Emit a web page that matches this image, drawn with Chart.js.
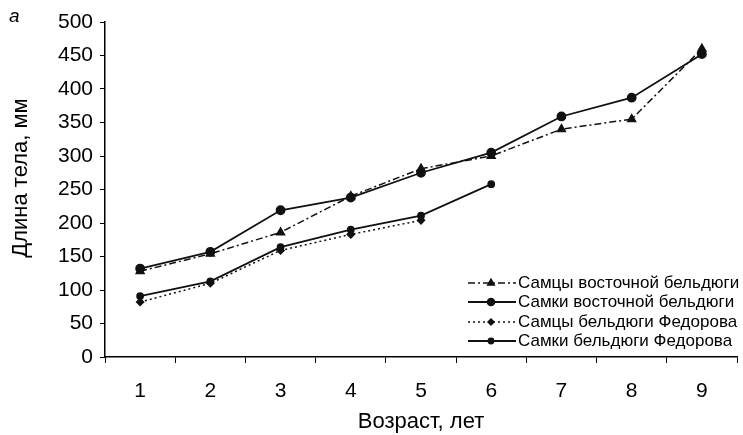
<!DOCTYPE html>
<html><head><meta charset="utf-8">
<script src="https://cdn.jsdelivr.net/npm/chart.js@4.4.1/dist/chart.umd.min.js"></script>
<style>html,body{margin:0;padding:0;background:#fff}#wrap{position:relative;width:743px;height:435px}</style>
</head><body>
<div id="wrap"><canvas id="c" width="743" height="435"></canvas></div>
<script>
const categories = ['1','2','3','4','5','6','7','8','9'];
const maleEastern   = [128, 154, 186, 240, 281, 300, 340, 355, 460];
const femaleEastern = [132, 157, 219, 238, 275, 305, 359, 387, 452];
const maleFedorov   = [82, 110, 159, 183, 204, null, null, null, null];
const femaleFedorov = [91, 113, 164, 190, 211, 258, null, null, null];
const seriesNames = ['Самцы восточной бельдюги','Самки восточной бельдюги','Самцы бельдюги Федорова','Самки бельдюги Федорова'];
const yTicks = [0,50,100,150,200,250,300,350,400,450,500];
const xTitle = 'Возраст, лет';
const yTitle = 'Длина тела, мм';
const panelLetter = 'а';

const FONT = "'Liberation Sans', Arial, sans-serif";
Chart.defaults.font.family = FONT;
Chart.defaults.color = '#000';

const ink = '#111';
const datasets = [
  {label: seriesNames[0], data: maleEastern, borderColor: ink, backgroundColor: ink, borderWidth: 1.5,
   borderDash: [7,3,2,3], pointStyle: 'triangle', pointRadius: 4.5},
  {label: seriesNames[1], data: femaleEastern, borderColor: ink, backgroundColor: ink, borderWidth: 1.8,
   pointStyle: 'circle', pointRadius: 4},
  {label: seriesNames[2], data: maleFedorov, borderColor: ink, backgroundColor: ink, borderWidth: 1.5,
   borderDash: [2,3], pointStyle: 'rectRot', pointRadius: 3.5},
  {label: seriesNames[3], data: femaleFedorov, borderColor: ink, backgroundColor: ink, borderWidth: 1.8,
   pointStyle: 'circle', pointRadius: 3},
];

const extrasPlugin = {
  id: 'extras',
  afterDraw(chart) {
    const ctx = chart.ctx;
    ctx.save();
    const x0 = 468, x1 = 516, xm = 491, tx = 518;
    const rows = [283, 302, 322, 341];
    chart.data.datasets.forEach((ds, i) => {
      const y = rows[i];
      ctx.strokeStyle = ds.borderColor;
      ctx.lineWidth = ds.borderWidth;
      ctx.setLineDash(ds.borderDash || []);
      ctx.beginPath(); ctx.moveTo(x0, y); ctx.lineTo(x1, y); ctx.stroke();
      ctx.setLineDash([]);
      ctx.fillStyle = ds.backgroundColor;
      Chart.helpers.drawPoint(ctx, {pointStyle: ds.pointStyle, radius: ds.pointRadius * 0.85, borderWidth: 1, rotation: 0}, xm, y);
      ctx.fillStyle = '#000';
      ctx.font = '17px ' + FONT;
      ctx.textBaseline = 'middle';
      ctx.textAlign = 'left';
      ctx.fillText(ds.label, tx, y);
    });
    // panel letter
    ctx.font = 'italic 19px ' + FONT;
    ctx.textBaseline = 'middle';
    ctx.textAlign = 'left';
    ctx.fillText(panelLetter, 9, 17);
    // y title
    ctx.translate(21, 178);
    ctx.rotate(-Math.PI / 2);
    ctx.font = '22px ' + FONT;
    ctx.textAlign = 'center';
    ctx.textBaseline = 'middle';
    ctx.fillText(yTitle, 0, 0);
    ctx.restore();
  }
};

new Chart(document.getElementById('c'), {
  type: 'line',
  data: {labels: categories, datasets},
  plugins: [extrasPlugin],
  options: {
    responsive: false, animation: false,
    layout: {padding: {top: 22, right: 0, left: 0, bottom: 0}},
    plugins: {legend: {display: false}, tooltip: {enabled: false}},
    elements: {line: {tension: 0, fill: false}, point: {borderWidth: 1}},
    scales: {
      x: {
        offset: true,
        grid: {offset: true, drawOnChartArea: false, drawTicks: true, tickLength: 6, color: '#000', lineWidth: 1},
        border: {display: true, color: '#000', width: 1.5},
        ticks: {font: {size: 21}, padding: 16, color: '#000'},
        title: {display: true, text: xTitle, font: {size: 22}, color: '#000', padding: {top: 2, bottom: 0}},
        afterFit(s) { s.height = 78; }
      },
      y: {
        min: 0, max: 500,
        afterBuildTicks(s) { s.ticks = yTicks.map(v => ({value: v})); },
        grid: {drawOnChartArea: false, drawTicks: true, tickLength: 5, color: '#000', lineWidth: 1},
        border: {display: true, color: '#000', width: 1.5},
        ticks: {font: {size: 21}, padding: 7, color: '#000'},
        afterFit(s) { s.width = 105; }
      }
    }
  }
});
</script>
</body></html>
